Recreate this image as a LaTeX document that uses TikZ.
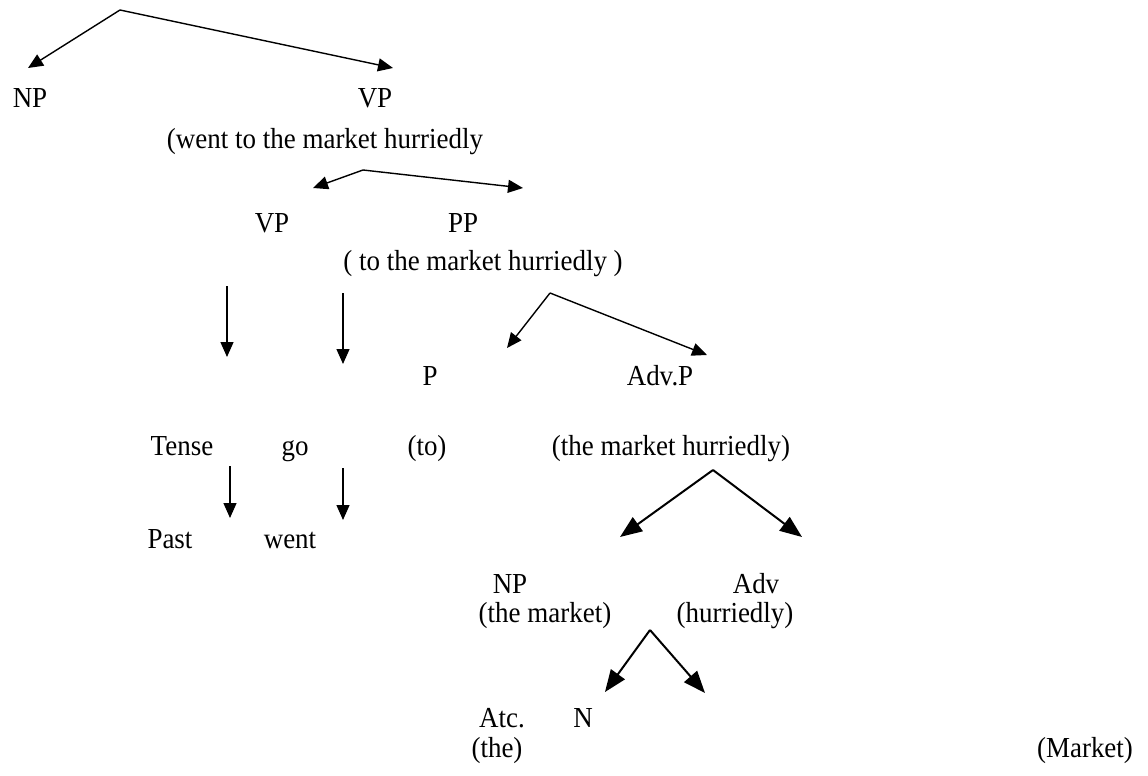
\documentclass[tikz,border=0pt]{standalone}
\usepackage{fontspec}
\setmainfont{Liberation Serif}[FakeStretch=0.93]
\usetikzlibrary{arrows.meta}

\begin{document}
\begin{tikzpicture}[
  x=1pt, y=-1pt,
  font=\fontsize{29}{34}\selectfont,
  lbl/.style={anchor=base, inner sep=0pt},
  branch/.style={-{Triangle[length=15pt,width=13pt]}, line width=1.4pt},
  bigbranch/.style={-{Triangle[length=22pt,width=17pt]}, line width=2pt}
]
\useasboundingbox (0,0) rectangle (1148,776);
% labels
\node[lbl] (np) at (30,107) {NP};
\node[lbl] (vp) at (375,107) {VP};
\node[lbl] (vpgloss) at (325,148) {(went to the market hurriedly};
\node[lbl] (vpb) at (272,232) {VP};
\node[lbl] (pp) at (463,232) {PP};
\node[lbl] (ppgloss) at (483,270) {( to the market hurriedly )};
\node[lbl] (p) at (430,385) {P};
\node[lbl] (advp) at (660,385) {Adv.P};
\node[lbl] (tense) at (182,455) {Tense};
\node[lbl] (go) at (295,455) {go};
\node[lbl] (to) at (427,455) {(to)};
\node[lbl] (advpgloss) at (671,455) {(the market hurriedly)};
\node[lbl] (past) at (170,548) {Past};
\node[lbl] (went) at (290,548) {went};
\node[lbl] (npb) at (510,593) {NP};
\node[lbl] (adv) at (756,593) {Adv};
\node[lbl] (npgloss) at (545,622) {(the market)};
\node[lbl] (advgloss) at (735,622) {(hurriedly)};
\node[lbl] (atc) at (502,727) {Atc.};
\node[lbl] (n) at (583,727) {N};
\node[lbl] (the) at (497,757) {(the)};
\node[lbl] (market) at (1085,757) {(Market)};
% branch points and free ends
\coordinate (s) at (120,10);
\coordinate (s-l) at (28,68);
\coordinate (s-r) at (393,68);
\coordinate (v) at (363,170);
\coordinate (v-l) at (313,188);
\coordinate (v-r) at (523,188);
\coordinate (t1) at (227,286);
\coordinate (t1-e) at (227,357);
\coordinate (t2) at (343,293);
\coordinate (t2-e) at (343,364);
\coordinate (q) at (550,293);
\coordinate (q-l) at (507,348);
\coordinate (q-r) at (707,355);
\coordinate (u1) at (230,466);
\coordinate (u1-e) at (230,518);
\coordinate (u2) at (343,468);
\coordinate (u2-e) at (343,520);
\coordinate (a) at (713,470);
\coordinate (a-l) at (620,537);
\coordinate (a-r) at (802,537);
\coordinate (m) at (650,630);
\coordinate (m-l) at (605,692);
\coordinate (m-r) at (705,693);
% arrows
\draw[branch] (s) -- (s-l);
\draw[branch] (s) -- (s-r);
\draw[branch] (v) -- (v-l);
\draw[branch] (v) -- (v-r);
\draw[branch] (t1) -- (t1-e);
\draw[branch] (t2) -- (t2-e);
\draw[branch] (q) -- (q-l);
\draw[branch] (q) -- (q-r);
\draw[branch] (u1) -- (u1-e);
\draw[branch] (u2) -- (u2-e);
\draw[bigbranch] (a) -- (a-l);
\draw[bigbranch] (a) -- (a-r);
\draw[bigbranch] (m) -- (m-l);
\draw[bigbranch] (m) -- (m-r);
\end{tikzpicture}
\end{document}
